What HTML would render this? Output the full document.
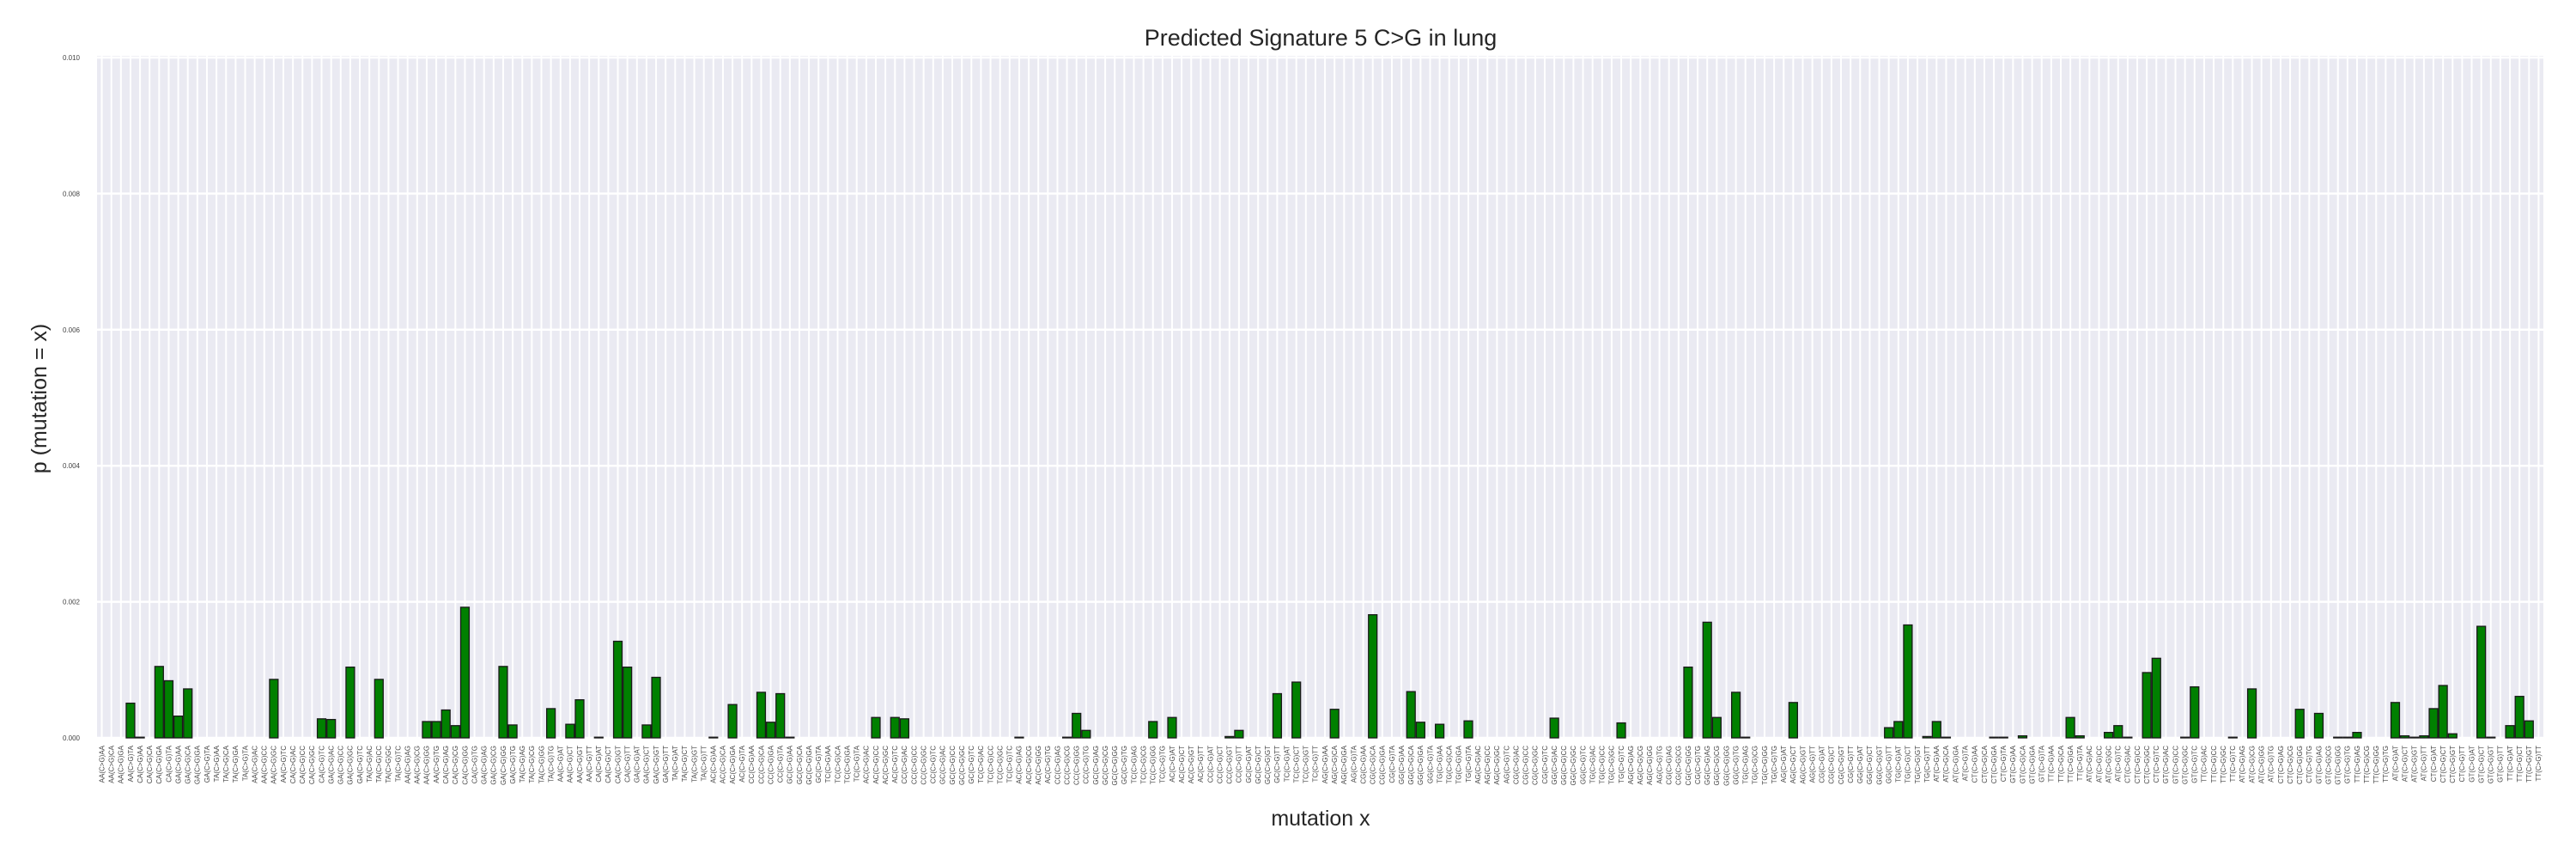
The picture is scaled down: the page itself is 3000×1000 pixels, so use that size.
<!DOCTYPE html>
<html><head><meta charset="utf-8"><style>
html,body{margin:0;padding:0;background:#fff;}
svg{display:block;font-family:"Liberation Sans",Arial,sans-serif;}
</style></head><body>
<svg id="chart" width="3000" height="1000" viewBox="0 0 3000 1000" xmlns="http://www.w3.org/2000/svg">
<rect x="0" y="0" width="3000" height="1000" fill="#fff"/>
<text x="1538" y="53" font-size="27" text-anchor="middle" fill="#262626">Predicted Signature 5 C&gt;G in lung</text>
<text transform="translate(54,464) rotate(-90)" font-size="25" text-anchor="middle" fill="#262626">p (mutation = x)</text>
<text x="1538" y="961" font-size="25" text-anchor="middle" fill="#262626">mutation x</text>
<g id="plot"></g>
</svg>
<script>
const yTicks = [0, 0.002, 0.004, 0.006, 0.008, 0.010];
const yTickLabels = ["0.000","0.002","0.004","0.006","0.008","0.010"];
const bases = ["A","C","G","T"];
const nonzeroIdx = [3,4,6,7,8,9,18,23,24,26,29,34,35,36,37,38,42,43,47,49,50,52,54,55,57,58,
64,66,69,70,71,72,81,83,84,96,101,102,103,110,112,118,119,123,125,
129,133,137,138,140,143,152,159,166,168,169,171,172,177,187,188,189,191,
192,193,198,199,201,206,207,210,211,212,214,215,218,219,223,225,230,232,234,235,236,240,241,242,243,244,245,246,249,250,252,253,254];
const nonzeroVal = [0.00051,0.00001,0.00105,0.00084,0.00032,0.00072,0.00086,0.00028,0.00027,0.00104,0.00086,0.00024,0.00024,0.00041,0.00018,0.00192,0.00105,0.00019,0.00043,0.0002,0.00056,0.00001,0.00142,0.00104,0.00019,0.00089,
0.00001,0.00049,0.00067,0.00023,0.00065,0.00001,0.0003,0.0003,0.00028,0.00001,0.00001,0.00036,0.00011,0.00024,0.0003,0.00002,0.00011,0.00065,0.00082,
0.00042,0.00181,0.00068,0.00023,0.0002,0.00025,0.00029,0.00022,0.00104,0.0017,0.0003,0.00067,0.00001,0.00052,0.00015,0.00024,0.00166,0.00002,
0.00024,0.00001,0.00001,0.00001,0.00003,0.0003,0.00003,0.00008,0.00018,0.00001,0.00096,0.00117,0.00001,0.00075,0.00001,0.00072,0.00042,0.00036,0.00001,0.00001,0.00008,0.00052,0.00003,0.00001,0.00003,0.00043,0.00077,0.00006,0.00164,0.00001,0.00018,0.00061,0.00025];

const N = 256;
const categories = [];
for (let i = 0; i < N; i++) {
  const p2 = bases[Math.floor(i/64)], z = bases[Math.floor((i%64)/16)], x = bases[Math.floor((i%16)/4)], y = bases[i%4];
  categories.push(x + p2 + "(C>G)" + y + z);
}
const values = new Array(N).fill(0);
nonzeroIdx.forEach((k, j) => { values[k] = nonzeroVal[j]; });

const L = 113, R = 2962, T = 67, B = 859, yMax = 0.010;
const step = (R - L) / N;
const xPos = i => L + i * step;
const yPos = v => B - v / yMax * (B - T);
const NS = "http://www.w3.org/2000/svg";
const g = document.getElementById("plot");
function mk(tag, attrs, parent) {
  const e = document.createElementNS(NS, tag);
  for (const k in attrs) e.setAttribute(k, attrs[k]);
  (parent || g).appendChild(e);
  return e;
}
const bg = mk("rect", {x: L, y: T - 2, width: R - L, height: B - T + 2, fill: "#EAEAF2"});


yTicks.forEach((t, i) => {
  const yy = yPos(t);
  const gl = mk("line", {x1: L, x2: R, y1: yy, y2: yy, stroke: "#fff", "stroke-width": 2.5});
  
  
  const tl = mk("text", {x: 93, y: yy + 3, "font-size": 8, "text-anchor": "end", fill: "#444"});
  tl.textContent = yTickLabels[i];
  
  
});
for (let i = 0; i < N; i++) {
  const cx = xPos(i) + step / 2;
  const vl = mk("line", {x1: cx, x2: cx, y1: T - 2, y2: B, stroke: "#fff", "stroke-width": 2});
  
  
}
for (let i = 0; i < N; i++) {
  const cx = xPos(i) + step / 2;
  if (values[i] > 0) {
    const top = yPos(values[i]);
    const bar = mk("rect", {x: xPos(i) + 0.6, y: top, width: step - 1.2, height: Math.max(B - top, 0.8), fill: "#008000", stroke: "#1a1a1a", "stroke-width": 1.3});
    
    
  }
  const lab = mk("text", {transform: "translate(" + (cx + 2.8) + ",868) rotate(-90)", "font-size": 8, "text-anchor": "end", fill: "#444"});
  lab.textContent = categories[i];
  
  
}
</script>
</body></html>
